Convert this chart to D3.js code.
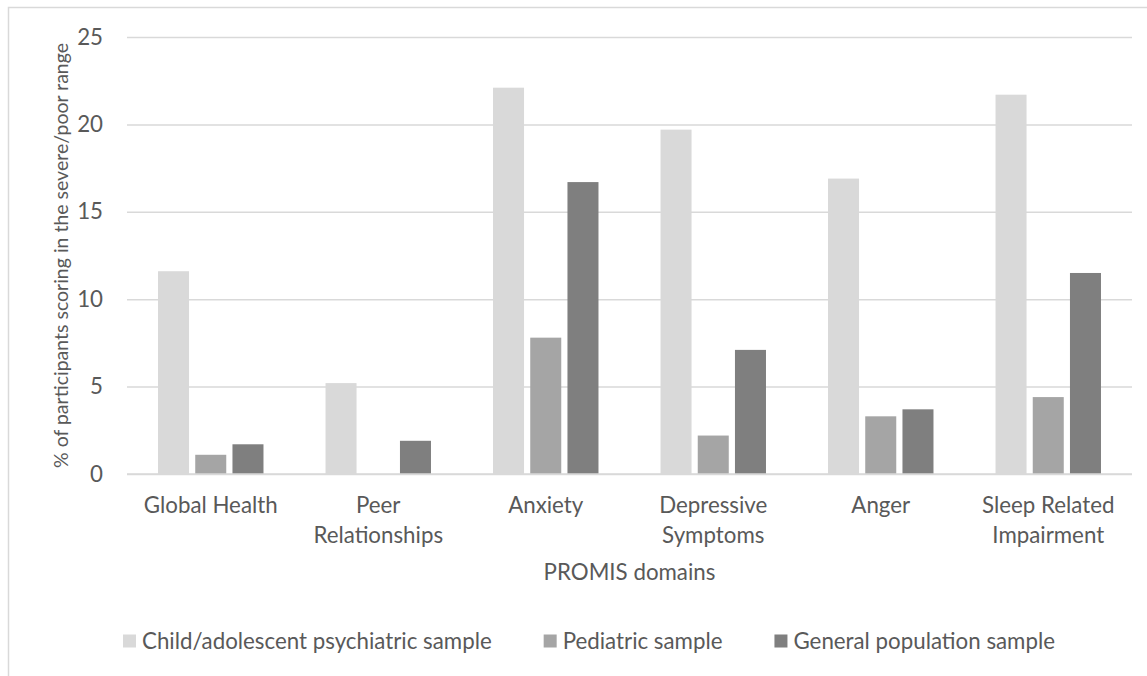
<!DOCTYPE html>
<html>
<head>
<meta charset="utf-8">
<script src="https://cdn.jsdelivr.net/npm/d3@7"></script>
<style>
  html, body { margin: 0; padding: 0; background: #fff; }
  svg { display: block; }
</style>
</head>
<body>
<svg id="chart"></svg>
<script>
// ── DATA ──────────────────────────────────────────────────────────────────────

const categories  = ['Global Health', 'Peer Relationships', 'Anxiety', 'Depressive Symptoms', 'Anger', 'Sleep Related Impairment'];
const seriesNames = ['Child/adolescent psychiatric sample', 'Pediatric sample', 'General population sample'];
const psychiatric = [11.6, 5.2, 22.1, 19.7, 16.9, 21.7];
const pediatric   = [1.1, 0, 7.8, 2.2, 3.3, 4.4];
const generalPop  = [1.7, 1.9, 16.7, 7.1, 3.7, 11.5];
const yTicks      = [0, 5, 10, 15, 20, 25];

const seriesValues = [psychiatric, pediatric, generalPop];
const seriesColors = ['#d9d9d9', '#a5a5a5', '#7f7f7f'];

// ── LAYOUT ────────────────────────────────────────────────────────────────────

const W = 1147, H = 676;
const plot = { left: 127, right: 1132, top: 37, bottom: 474 };
const FONT = "Lato, 'Open Sans', sans-serif";
const FS = '22.3px';
const TEXT = '#595959';
const GRID = '#d9d9d9';

const svg = d3.select('#chart').attr('width', W).attr('height', H);

// chart border (only left/top fall inside the picture)
svg.append('rect')
  .attr('x', 8.5).attr('y', 7.5)
  .attr('width', 1300).attr('height', 800)
  .attr('fill', 'none')
  .attr('stroke', GRID)
  .attr('stroke-width', 1.5);

// ── SCALES ────────────────────────────────────────────────────────────────────

const x0 = d3.scaleBand()
  .domain(categories)
  .range([plot.left, plot.right])
  .padding(0);

// gap width 200%, overlap -20%  ->  bar = step / 5.4
const barW = x0.bandwidth() / 5.4;
const x1 = d3.scaleBand()
  .domain(d3.range(seriesNames.length))
  .range([barW, x0.bandwidth() - barW])
  .paddingInner(1 / 6);

const y = d3.scaleLinear()
  .domain([0, 25])
  .range([plot.bottom, plot.top]);

// ── GRID + Y AXIS ─────────────────────────────────────────────────────────────

const yAxis = svg.append('g')
  .attr('transform', `translate(${plot.left},0)`)
  .call(d3.axisLeft(y).tickValues(yTicks).tickSize(-(plot.right - plot.left)).tickPadding(24));

yAxis.select('.domain').remove();
yAxis.selectAll('.tick line')
  .attr('stroke', GRID)
  .attr('stroke-width', 1.5);
yAxis.selectAll('.tick text')
  .attr('fill', TEXT)
  .attr('font-family', FONT)
  .attr('font-size', FS);

// ── BARS ──────────────────────────────────────────────────────────────────────

const groups = svg.append('g').attr('class', 'bars')
  .selectAll('g')
  .data(categories)
  .join('g')
  .attr('transform', d => `translate(${x0(d)},0)`);

groups.selectAll('rect')
  .data((d, i) => seriesValues.map((vals, s) => ({ s, v: vals[i] })))
  .join('rect')
  .attr('x', d => x1(d.s))
  .attr('width', x1.bandwidth())
  .attr('y', d => y(d.v))
  .attr('height', d => y(0) - y(d.v))
  .attr('fill', d => seriesColors[d.s]);

// x axis baseline
svg.append('line')
  .attr('x1', plot.left).attr('x2', plot.right)
  .attr('y1', y(0)).attr('y2', y(0))
  .attr('stroke', GRID)
  .attr('stroke-width', 1.5);

// ── X LABELS (wrapped) ────────────────────────────────────────────────────────

const xLabels = svg.append('g').attr('class', 'x-labels');
categories.forEach(cat => {
  const cx = x0(cat) + x0.bandwidth() / 2;
  const t = xLabels.append('text')
    .attr('x', cx)
    .attr('y', 513)
    .attr('text-anchor', 'middle')
    .attr('fill', TEXT)
    .attr('font-family', FONT)
    .attr('font-size', FS);

  const words = cat.split(' ');
  const maxW = x0.bandwidth() - 8;
  let line = [];
  let tspan = t.append('tspan').attr('x', cx).attr('dy', 0);
  words.forEach(w => {
    line.push(w);
    tspan.text(line.join(' '));
    if (tspan.node().getComputedTextLength() > maxW && line.length > 1) {
      line.pop();
      tspan.text(line.join(' '));
      line = [w];
      tspan = t.append('tspan')
        .attr('x', cx)
        .attr('dy', 30)
        .text(w);
    }
  });
});

// ── AXIS TITLES ───────────────────────────────────────────────────────────────

svg.append('text')
  .attr('x', (plot.left + plot.right) / 2)
  .attr('y', 580)
  .attr('text-anchor', 'middle')
  .attr('fill', TEXT)
  .attr('font-family', FONT)
  .attr('font-size', FS)
  .text('PROMIS domains');

svg.append('text')
  .attr('transform', `translate(68,${(plot.top + plot.bottom) / 2}) rotate(-90)`)
  .attr('text-anchor', 'middle')
  .attr('fill', TEXT)
  .attr('font-family', FONT)
  .attr('font-size', '19.5px')
  .text('% of participants scoring in the severe/poor range');

// ── LEGEND ────────────────────────────────────────────────────────────────────

const legend = svg.append('g').attr('class', 'legend');
const SW = 13, TXT_GAP = 6, ITEM_GAP = 52;
const items = seriesNames.map((name, i) => {
  const g = legend.append('g');
  g.append('rect')
    .attr('width', SW).attr('height', SW)
    .attr('y', -SW / 2)
    .attr('fill', seriesColors[i]);
  const t = g.append('text')
    .attr('x', SW + TXT_GAP)
    .attr('dy', '0.35em')
    .attr('fill', TEXT)
    .attr('font-family', FONT)
    .attr('font-size', FS)
    .text(name);
  return { g, w: SW + TXT_GAP + t.node().getComputedTextLength() };
});

const totalW = d3.sum(items, d => d.w) + ITEM_GAP * (items.length - 1);
let lx = 589 - totalW / 2;
items.forEach(it => {
  it.g.attr('transform', `translate(${lx},641)`);
  lx += it.w + ITEM_GAP;
});
</script>
</body>
</html>
